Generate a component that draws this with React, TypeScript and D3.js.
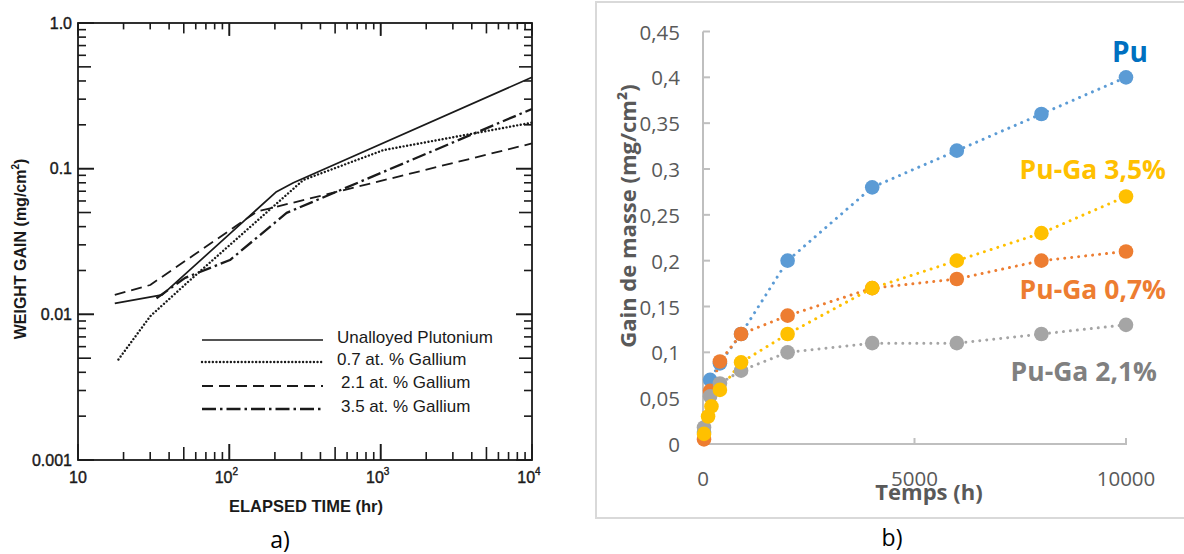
import React from "react";
import * as d3 from "d3";

// ---------- Panel a data (log-log) ----------
const unalloyedHours = [17.5, 36, 205, 265, 10000];
const unalloyedGain = [0.0119, 0.0136, 0.0695, 0.08, 0.424];
const ga07Hours = [18.5, 30, 52, 308, 1040, 10000];
const ga07Gain = [0.0049, 0.0097, 0.0163, 0.0836, 0.134, 0.207];
const ga21Hours = [17.5, 30, 152, 10000];
const ga21Gain = [0.0136, 0.0159, 0.0507, 0.149];
const ga35Hours = [33, 51, 101, 239, 10000];
const ga35Gain = [0.0129, 0.0178, 0.0236, 0.0497, 0.257];
const legendLabelsA = [
  "Unalloyed Plutonium",
  "0.7  at. % Gallium",
  "2.1 at. % Gallium",
  "3.5 at. % Gallium",
];
const yTickLabelsA = ["1.0", "0.1", "0.01", "0.001"];
const yTickValuesA = [1, 0.1, 0.01, 0.001];

// ---------- Panel b data ----------
const puHours = [24, 168, 400, 900, 2000, 4000, 6000, 8000, 10000];
const puGain = [0.013, 0.07, 0.088, 0.12, 0.2, 0.28, 0.32, 0.36, 0.4];
const pu07Hours = [24, 168, 400, 900, 2000, 4000, 6000, 8000, 10000];
const pu07Gain = [0.005, 0.058, 0.09, 0.12, 0.14, 0.17, 0.18, 0.2, 0.21];
const pu21Hours = [24, 168, 400, 900, 2000, 4000, 6000, 8000, 10000];
const pu21Gain = [0.018, 0.052, 0.066, 0.08, 0.1, 0.11, 0.11, 0.12, 0.13];
const pu35Hours = [24, 120, 200, 400, 900, 2000, 4000, 6000, 8000, 10000];
const pu35Gain = [0.011, 0.03, 0.041, 0.059, 0.089, 0.12, 0.17, 0.2, 0.23, 0.27];
const seriesNamesB = ["Pu", "Pu-Ga 0,7%", "Pu-Ga 2,1%", "Pu-Ga 3,5%"];
const yTicksB = [0, 0.05, 0.1, 0.15, 0.2, 0.25, 0.3, 0.35, 0.4, 0.45];
const xTicksB = [0, 5000, 10000];

const fmtComma = (v: number) =>
  v === 0 ? "0" : String(+v.toFixed(2)).replace(".", ",");

export default function App() {
  // ----- panel a scales -----
  const xa = d3.scaleLog().domain([10, 10000]).range([78, 532]);
  const ya = d3.scaleLog().domain([0.001, 1]).range([460, 23]);
  const lineA = d3
    .line<[number, number]>()
    .x((d) => xa(d[0]))
    .y((d) => ya(d[1]));
  const zip = (a: number[], b: number[]) =>
    a.map((v, i) => [v, b[i]] as [number, number]);

  const seriesA = [
    { h: unalloyedHours, g: unalloyedGain, dash: undefined, w: 1.7, cap: "butt" },
    { h: ga07Hours, g: ga07Gain, dash: "0.01 3.6", w: 2.4, cap: "round" },
    { h: ga21Hours, g: ga21Gain, dash: "11 6", w: 1.8, cap: "butt" },
    { h: ga35Hours, g: ga35Gain, dash: "14 4 2.5 4", w: 2.3, cap: "butt" },
  ];

  // log minor ticks
  const xTicksMinorA: { v: number; kind: number }[] = [];
  for (let dec = 10; dec < 10000; dec *= 10) {
    for (let k = 1; k <= 10; k++) {
      const v = dec * k;
      xTicksMinorA.push({ v, kind: k === 1 || k === 10 ? 2 : k === 5 ? 1 : 0 });
    }
  }
  const yTicksMinorA: { v: number; kind: number }[] = [];
  for (let dec = 0.001; dec < 0.99; dec *= 10) {
    for (let k = 1; k <= 10; k++) {
      const v = dec * k;
      yTicksMinorA.push({ v, kind: k === 1 || k === 10 ? 2 : k === 5 ? 1 : 0 });
    }
  }
  const tlen = (k: number) => (k === 2 ? 16 : k === 1 ? 13 : 8);
  const ink = "#1a1a1a";

  // ----- panel b scales -----
  const xb = d3.scaleLinear().domain([0, 10000]).range([703, 1126]);
  const yb = d3.scaleLinear().domain([0, 0.45]).range([444, 31.5]);
  const lineB = d3
    .line<[number, number]>()
    .x((d) => xb(d[0]))
    .y((d) => yb(d[1]));
  const seriesB = [
    { h: puHours, g: puGain, color: "#5B9BD5" },
    { h: pu07Hours, g: pu07Gain, color: "#ED7D31" },
    { h: pu21Hours, g: pu21Gain, color: "#A5A5A5" },
    { h: pu35Hours, g: pu35Gain, color: "#FFC000" },
  ];
  const labelsB = [
    { text: seriesNamesB[0], color: "#0070C0", x: 1148, y: 62, size: 28 },
    { text: seriesNamesB[3], color: "#FFC000", x: 1166, y: 179, size: 26.5 },
    { text: seriesNamesB[1], color: "#ED7D31", x: 1166, y: 299, size: 26.5 },
    { text: seriesNamesB[2], color: "#808080", x: 1157, y: 381, size: 26.5 },
  ];
  const axisGray = "#BFBFBF";
  const textGray = "#595959";
  const fontB = "'Open Sans', 'Noto Sans', sans-serif";
  const fontA = "'Liberation Sans', Arial, sans-serif";

  return (
    <svg
      width={1184}
      height={554}
      style={{ position: "absolute", left: 0, top: 0, background: "#fff" }}
    >
      <rect x={0} y={0} width={1184} height={554} fill="#fff" />

      {/* ================= Panel a ================= */}
      <g>
        <rect x={78} y={23} width={454} height={437} fill="none" stroke={ink} strokeWidth={1.8} />
        {xTicksMinorA.map((t, i) => (
          <g key={"xt" + i}>
            <line x1={xa(t.v)} x2={xa(t.v)} y1={460} y2={460 - tlen(t.kind)} stroke={ink} strokeWidth={1.6} />
            <line x1={xa(t.v)} x2={xa(t.v)} y1={23} y2={23 + tlen(t.kind) * 0.8} stroke={ink} strokeWidth={1.6} />
          </g>
        ))}
        {yTicksMinorA.map((t, i) => (
          <g key={"yt" + i}>
            <line x1={78} x2={78 + tlen(t.kind)} y1={ya(t.v)} y2={ya(t.v)} stroke={ink} strokeWidth={1.6} />
            <line x1={532} x2={532 - tlen(t.kind)} y1={ya(t.v)} y2={ya(t.v)} stroke={ink} strokeWidth={1.6} />
          </g>
        ))}
        {yTickValuesA.map((v, i) => (
          <text key={"yl" + i} x={72} y={ya(v)} textAnchor="end" dominantBaseline="central"
            fontFamily={fontA} fontSize={16} fill={ink} stroke={ink} strokeWidth={0.4}>
            {yTickLabelsA[i]}
          </text>
        ))}
        <text x={xa(10)} y={477} textAnchor="middle" dominantBaseline="central" fontFamily={fontA} fontSize={16} fill={ink} stroke={ink} strokeWidth={0.4}>10</text>
        {[100, 1000, 10000].map((v, i) => (
          <text key={"xl" + i} x={xa(v) - 3} y={477} textAnchor="middle" dominantBaseline="central" fontFamily={fontA} fontSize={16} fill={ink} stroke={ink} strokeWidth={0.4}>
            10<tspan fontSize={10} dy={-6}>{i + 2}</tspan>
          </text>
        ))}
        <text x={306} y={506} textAnchor="middle" dominantBaseline="central" fontFamily={fontA} fontWeight="bold" fontSize={16.5} fill={ink}>
          ELAPSED TIME (hr)
        </text>
        <text transform="translate(20,249) rotate(-90)" textAnchor="middle" dominantBaseline="central" fontFamily={fontA} fontWeight="bold" fontSize={16} fill={ink}>
          WEIGHT GAIN (mg/cm<tspan fontSize={10} dy={-5}>2</tspan><tspan dy={5}>)</tspan>
        </text>

        {seriesA.map((s, i) => (
          <path key={"la" + i} d={lineA(zip(s.h, s.g)) || ""} fill="none" stroke={ink}
            strokeWidth={s.w} strokeDasharray={s.dash} strokeLinecap={s.cap as any} strokeLinejoin="round" />
        ))}

        {/* legend */}
        {seriesA.map((s, i) => {
          const ly = [340, 362, 386, 409][i];
          const ty = [337, 359, 382.5, 406][i];
          const tx = [337, 337, 341, 341][i];
          return (
            <g key={"lg" + i}>
              <line x1={202} x2={323} y1={ly} y2={ly} stroke={ink} strokeWidth={s.w}
                strokeDasharray={s.dash} strokeLinecap={s.cap as any} />
              <text x={tx} y={ty} dominantBaseline="central" fontFamily={fontA} fontSize={17} fill={ink}>
                {legendLabelsA[i]}
              </text>
            </g>
          );
        })}
        <text x={280} y={539} textAnchor="middle" dominantBaseline="central" fontFamily={fontB} fontSize={23} fill="#000">a)</text>
      </g>

      {/* ================= Panel b ================= */}
      <g>
        <path d="M1190,2 H596 V518 H1190" fill="none" stroke="#D9D9D9" strokeWidth={2} />
        <line x1={703} x2={703} y1={yb(0.45)} y2={yb(0)} stroke={axisGray} strokeWidth={2} />
        <line x1={703} x2={1127} y1={yb(0)} y2={yb(0)} stroke={axisGray} strokeWidth={2} />
        {yTicksB.map((v, i) => (
          <g key={"ybt" + i}>
            <line x1={703} x2={710} y1={yb(v)} y2={yb(v)} stroke={axisGray} strokeWidth={2} />
            <text x={680} y={yb(v)} textAnchor="end" dominantBaseline="central" fontFamily={fontB} fontSize={20.5} fill={textGray}>
              {fmtComma(v)}
            </text>
          </g>
        ))}
        {xTicksB.map((v, i) => (
          <g key={"xbt" + i}>
            {v > 0 && <line x1={xb(v)} x2={xb(v)} y1={yb(0)} y2={yb(0) - 6} stroke={axisGray} strokeWidth={2} />}
            <text x={xb(v)} y={478} textAnchor="middle" dominantBaseline="central" fontFamily={fontB} fontSize={20.5} fill={textGray}>
              {String(v)}
            </text>
          </g>
        ))}
        <text x={929} y={500} textAnchor="middle" fontFamily={fontB} fontWeight="bold" fontSize={22} fill={textGray}>
          Temps (h)
        </text>
        <text transform="translate(627,216) rotate(-90)" textAnchor="middle" dominantBaseline="central" fontFamily={fontB} fontWeight="bold" fontSize={22} fill={textGray}>
          Gain de masse (mg/cm²)
        </text>

        {seriesB.map((s, i) => (
          <path key={"lb" + i} d={lineB(zip(s.h, s.g)) || ""} fill="none" stroke={s.color}
            strokeWidth={3} strokeDasharray="0.01 7" strokeLinecap="round" />
        ))}
        {seriesB.map((s, i) => (
          <g key={"mk" + i}>
            {s.h.map((h, j) => (
              <circle key={j} cx={xb(h)} cy={yb(s.g[j])} r={7.3} fill={s.color} />
            ))}
          </g>
        ))}
        {labelsB.map((l, i) => (
          <text key={"sl" + i} x={l.x} y={l.y} textAnchor="end" fontFamily={fontB} fontWeight="bold" fontSize={l.size} fill={l.color}>
            {l.text}
          </text>
        ))}
        <text x={892} y={537} textAnchor="middle" dominantBaseline="central" fontFamily={fontB} fontSize={23} fill="#000">b)</text>
      </g>
    </svg>
  );
}
